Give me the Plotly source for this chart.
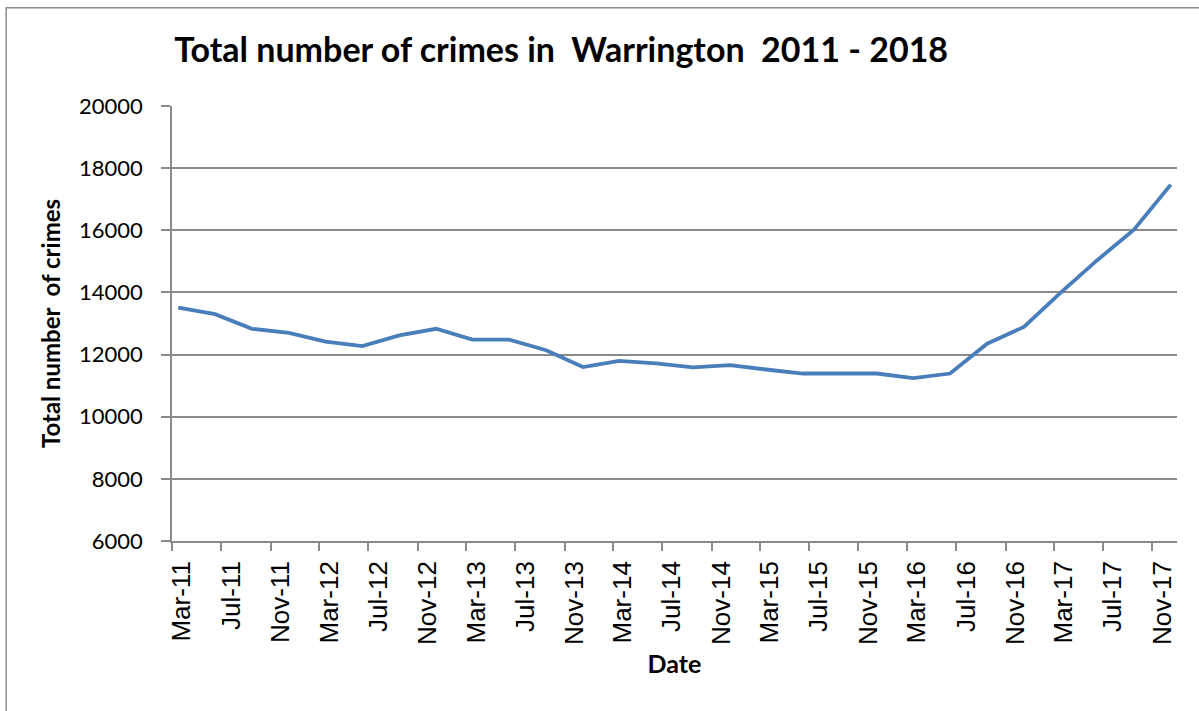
import plotly.graph_objects as go

# Quarterly observations (month of observation)
dates = [
    "2011-03", "2011-06", "2011-09", "2011-12",
    "2012-03", "2012-06", "2012-09", "2012-12",
    "2013-03", "2013-06", "2013-09", "2013-12",
    "2014-03", "2014-06", "2014-09", "2014-12",
    "2015-03", "2015-06", "2015-09", "2015-12",
    "2016-03", "2016-06", "2016-09", "2016-12",
    "2017-03", "2017-06", "2017-09", "2017-12",
]
crimes = [
    13510, 13300, 12830, 12700,
    12420, 12270, 12620, 12830,
    12480, 12480, 12140, 11600,
    11800, 11720, 11590, 11660,
    11520, 11390, 11390, 11390,
    11240, 11390, 12350, 12890,
    13980, 15030, 16020, 17470,
]

title_text = "Total number of crimes in  Warrington  2011 - 2018"
x_title = "Date"
y_title = "Total number  of crimes"

GRID = "#8a8a8a"
LINE = "#4a7ebb"

fig = go.Figure()
fig.add_trace(go.Scatter(
    x=dates, y=crimes, mode="lines",
    xperiod="M1", xperiodalignment="middle",
    line=dict(color=LINE, width=3.8),
    hoverinfo="x+y", showlegend=False,
))

fig.update_layout(
    width=1199, height=711,
    margin=dict(l=172, r=22, t=106, b=170),
    paper_bgcolor="white", plot_bgcolor="white",
    title=dict(text=title_text, x=0.468, xanchor="center", y=0.930, yanchor="middle",
               font=dict(family="Lato", size=34, color="black", weight="bold")),
    xaxis=dict(
        type="date", range=["2011-03-01", "2018-01-01"],
        tick0="2011-03-01", dtick="M4", tickformat="%b-%y",
        tickangle=-90, ticks="outside", ticklen=8, tickwidth=1.5, tickcolor=GRID,
        ticklabelshift=10,
        showline=True, linecolor=GRID, linewidth=1.5, showgrid=False,
        tickfont=dict(family="Liberation Sans, Arial", size=26, color="black"),
        title=dict(text=x_title, standoff=12,
                   font=dict(family="Lato", size=25, color="black", weight="bold")),
    ),
    yaxis=dict(
        range=[6000, 20000], dtick=2000, tick0=6000, tickformat="d",
        ticks="outside", ticklen=9, tickwidth=1.5, tickcolor=GRID,
        ticklabelstandoff=14,
        showline=True, linecolor=GRID, linewidth=1.5,
        showgrid=True, gridcolor=GRID, gridwidth=1.5, zeroline=False,
        tickfont=dict(family="Lato", size=22, color="black"),
        title=dict(text=y_title, standoff=12,
                   font=dict(family="Lato", size=24, color="black", weight="bold")),
    ),
    shapes=[dict(type="rect", xref="paper", yref="paper",
                 x0=-0.165, x1=1.2, y0=-0.6, y1=1.226,
                 line=dict(color="#8c8c8c", width=1.5), layer="below")],
)

fig.write_html("out.html", config={"displayModeBar": False},
               post_script="document.body.style.margin='0';")
